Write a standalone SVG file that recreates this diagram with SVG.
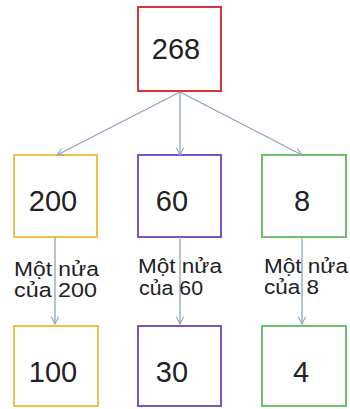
<svg xmlns="http://www.w3.org/2000/svg" width="350" height="409" viewBox="0 0 350 409">
<defs>
<marker id="arr" viewBox="0 0 10 10" refX="9" refY="5" markerWidth="9" markerHeight="9" markerUnits="userSpaceOnUse" orient="auto">
<path d="M1,1 L9,5 L1,9" fill="none" stroke="#8ea3b8" stroke-width="1.2"/>
</marker>
<style>
.box{fill:#fff;stroke-width:2}
.num{font-family:"Liberation Sans",Arial,sans-serif;font-size:29px;fill:#222;text-anchor:middle}
.lbl{font-family:"Liberation Sans",Arial,sans-serif;font-size:20.5px;fill:#222}
.con{stroke:#8ea3b8;stroke-width:1.3;fill:none;marker-end:url(#arr)}
</style>
</defs>
<rect width="350" height="409" fill="#fff"/>
<g id="n268"><rect class="box" x="138" y="7" width="83" height="84" stroke="#d8343c"/><text class="num" x="176" y="59">268</text></g>
<g id="n200"><rect class="box" x="14" y="155" width="83" height="82" stroke="#f2c04a"/><text class="num" x="53" y="211">200</text></g>
<g id="n60"><rect class="box" x="138" y="155" width="83" height="82" stroke="#7b52c8"/><text class="num" x="172" y="211">60</text></g>
<g id="n8"><rect class="box" x="262" y="155" width="84" height="82" stroke="#6cc070"/><text class="num" x="302" y="211">8</text></g>
<g id="n100"><rect class="box" x="14" y="326" width="84" height="80" stroke="#f2c04a"/><text class="num" x="53" y="382">100</text></g>
<g id="n30"><rect class="box" x="138" y="326" width="83" height="80" stroke="#7b52c8"/><text class="num" x="172" y="382">30</text></g>
<g id="n4"><rect class="box" x="262" y="326" width="84" height="80" stroke="#6cc070"/><text class="num" x="301" y="382">4</text></g>
<g id="connectors">
<line class="con" x1="180" y1="92" x2="57" y2="155"/>
<line class="con" x1="180" y1="92" x2="180" y2="155"/>
<line class="con" x1="180" y1="92" x2="302" y2="155"/>
<line class="con" x1="55" y1="237" x2="55" y2="324"/>
<line class="con" x1="180" y1="237" x2="180" y2="324"/>
<line class="con" x1="302" y1="237" x2="302" y2="324"/>
</g>
<g id="labels">
<text class="lbl" x="14" y="275.5" textLength="85" lengthAdjust="spacingAndGlyphs">Một nửa</text>
<text class="lbl" x="14" y="297" textLength="83" lengthAdjust="spacingAndGlyphs">của 200</text>
<text class="lbl" x="138" y="272.5" textLength="84" lengthAdjust="spacingAndGlyphs">Một nửa</text>
<text class="lbl" x="139" y="295" textLength="64" lengthAdjust="spacingAndGlyphs">của 60</text>
<text class="lbl" x="264" y="272.5" textLength="84" lengthAdjust="spacingAndGlyphs">Một nửa</text>
<text class="lbl" x="264" y="294" textLength="55" lengthAdjust="spacingAndGlyphs">của 8</text>
</g>
</svg>
